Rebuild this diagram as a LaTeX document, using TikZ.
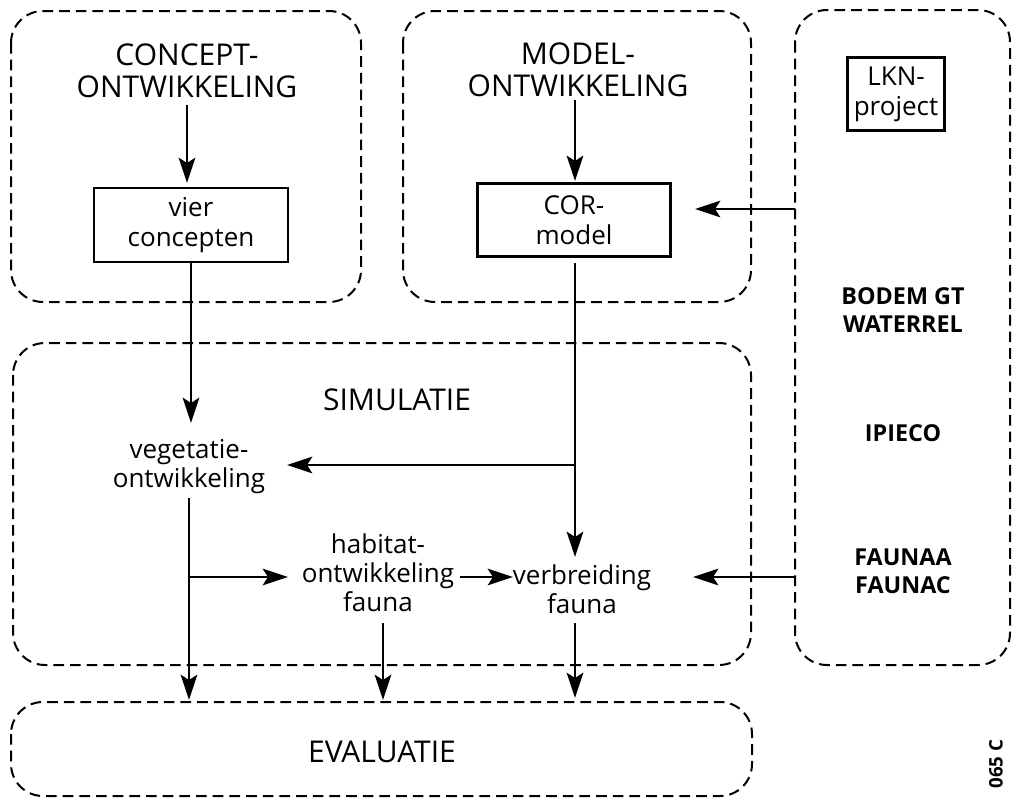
\documentclass[tikz,border=0pt]{standalone}
\usepackage{fontspec}
\setmainfont{Open Sans}
\usetikzlibrary{arrows.meta}
\tikzset{
  container/.style={draw, line width=1.5pt, dash pattern=on 8pt off 4.5pt, rounded corners=24pt},
  solidbox/.style={draw, line width=1.8pt, align=center, font=\fontsize{19.5}{22.5}\selectfont, inner sep=0pt},
  bigtext/.style={align=center, font=\fontsize{22.5}{24}\selectfont, inner sep=2pt},
  smalltext/.style={align=center, font=\fontsize{19.5}{21.75}\selectfont, inner sep=0pt},
  sidetext/.style={align=center, font=\fontsize{17.5}{21}\selectfont\bfseries, inner sep=0pt},
  arr/.style={line width=1.6pt, -{Stealth[length=19pt, width=12.5pt, inset=4pt]}},
  plain/.style={line width=1.6pt}
}
\begin{document}
\begin{tikzpicture}[x=0.75pt,y=-0.75pt]
\useasboundingbox (0,0) rectangle (1014,800);
% containers
\draw[container] (11,11) rectangle (361,302);
\draw[container] (403,11) rectangle (751,302);
\draw[container] (795,10) rectangle (1010,665);
\draw[container] (13,343) rectangle (751,665);
\draw[container] (11,702) rectangle (752,796);
% text nodes
\node[bigtext] (ct) at (187,71) {CONCEPT-\\ONTWIKKELING};
\node[bigtext] (mt) at (578,70) {MODEL-\\ONTWIKKELING};
\node[solidbox, minimum width=145.5pt, minimum height=55.5pt] (vc) at (191,225) {vier\\concepten};
\node[solidbox, minimum width=144.75pt, minimum height=54.75pt] (cor) at (574,220) {COR-\\model};
\node[solidbox, minimum width=72.75pt, minimum height=54.75pt] (lkn) at (896,94) {LKN-\\project};
\node[sidetext] (bodem) at (903,310) {BODEM GT\\WATERREL};
\node[sidetext] (ipieco) at (903,433) {IPIECO};
\node[sidetext] (fauna) at (903,571) {FAUNAA\\FAUNAC};
\node[bigtext] (sim) at (397,400) {SIMULATIE};
\node[smalltext] (veg) at (189,467) {vegetatie-\\ontwikkeling};
\node[smalltext] (hab) at (378,573) {habitat-\\ontwikkeling\\fauna};
\node[smalltext] (verb) at (582,589) {verbreiding\\fauna};
\node[bigtext] (eval) at (382,752) {EVALUATIE};
\node[font=\fontsize{14}{16}\selectfont\bfseries, rotate=90] (code) at (996,764) {065 C};
% coordinates
\coordinate (rin1) at (795,209);
\coordinate (rin2) at (795,577);
\coordinate (b1) at (575,465);
\coordinate (b2) at (189,577);
% connectors
\draw[arr] (187,105) -- (187,183);
\draw[arr] (575,100) -- (575,181);
\draw[arr] (rin1) -- (695,209);
\draw[arr] (191,263) -- (191,423);
\draw[arr] (575,263) -- (575,557);
\draw[arr] (b1) -- (287,465);
\draw[plain] (189,498) -- (b2);
\draw[arr] (b2) -- (189,700);
\draw[arr] (b2) -- (288,577);
\draw[arr] (460,577) -- (513,577);
\draw[arr] (rin2) -- (693,577);
\draw[arr] (383,623) -- (383,700);
\draw[arr] (575,623) -- (575,698);
\end{tikzpicture}
\end{document}
